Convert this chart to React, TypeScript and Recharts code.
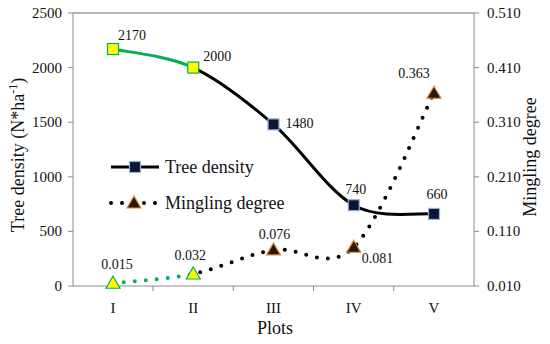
import React from 'react';
import {
  ComposedChart,
  Line,
  XAxis,
  YAxis,
  Legend,
  LabelList,
  ReferenceLine,
} from 'recharts';

// Plots I..V
const PLOTS = ['I', 'II', 'III', 'IV', 'V'];
const TREE_DENSITY = [2170, 2000, 1480, 740, 660];
const MINGLING = [0.015, 0.032, 0.076, 0.081, 0.363];
const DENSITY_TICKS = [0, 500, 1000, 1500, 2000, 2500];
const MINGLING_TICKS = [0.01, 0.11, 0.21, 0.31, 0.41, 0.51];

const data = PLOTS.map((p, i) => ({ plot: p, density: TREE_DENSITY[i], mingling: MINGLING[i] }));

const FONT = '"Liberation Serif", "Times New Roman", serif';
const GREEN = '#00b050';
const AXIS = '#8c8c8c';
const serif = { fontFamily: FONT };

// label placement per point [dx, dy, anchor]
const DENSITY_LABEL_POS: [number, number, string][] = [
  [5, -9, 'start'],
  [10, -7, 'start'],
  [12, 4, 'start'],
  [2, -11, 'middle'],
  [3, -15, 'middle'],
];
const MINGLING_LABEL_POS: [number, number, string][] = [
  [4, -14, 'middle'],
  [-3, -14, 'middle'],
  [1, -11, 'middle'],
  [8, 16, 'start'],
  [-20, -15, 'middle'],
];

// Excel-like smoothed line (catmull-rom style bezier)
function excelSmooth(context: any) {
  let pts: number[][] = [];
  return {
    areaStart() {},
    areaEnd() {},
    lineStart() {
      pts = [];
    },
    point(x: number, y: number) {
      pts.push([+x, +y]);
    },
    lineEnd() {
      const n = pts.length;
      if (!n) return;
      context.moveTo(pts[0][0], pts[0][1]);
      for (let i = 0; i < n - 1; i++) {
        const p0 = pts[Math.max(i - 1, 0)];
        const p1 = pts[i];
        const p2 = pts[i + 1];
        const p3 = pts[Math.min(i + 2, n - 1)];
        context.bezierCurveTo(
          p1[0] + (p2[0] - p0[0]) / 6,
          p1[1] + (p2[1] - p0[1]) / 6,
          p2[0] - (p3[0] - p1[0]) / 6,
          p2[1] - (p3[1] - p1[1]) / 6,
          p2[0],
          p2[1]
        );
      }
    },
  };
}

function SquareDot(props: any) {
  const { cx, cy, index } = props;
  const early = index < 2;
  return (
    <rect
      key={`sq-${index}`}
      x={cx - 5.5}
      y={cy - 5.5}
      width={11}
      height={11}
      fill={early ? '#ffff00' : '#0f1430'}
      stroke={early ? GREEN : '#8db8e2'}
      strokeWidth={1.2}
    />
  );
}

function TriangleDot(props: any) {
  const { cx, cy, index } = props;
  const early = index < 2;
  return (
    <path
      key={`tr-${index}`}
      d={`M${cx},${cy - 7} L${cx + 7},${cy + 5} L${cx - 7},${cy + 5} Z`}
      fill={early ? '#ffff00' : '#2a1708'}
      stroke={early ? GREEN : '#e08a3c'}
      strokeWidth={1.2}
    />
  );
}

function makeLabel(pos: [number, number, string][], fmt: (v: number) => string) {
  return (props: any) => {
    const { x, y, index, value } = props;
    const [dx, dy, anchor] = pos[index];
    return (
      <text x={x + dx} y={y + dy} textAnchor={anchor as any} fontSize={14} style={serif} fill="#111">
        {fmt(value)}
      </text>
    );
  };
}

function PlotTick(props: any) {
  const { x, y, payload, index } = props;
  return (
    <g>
      {index < 4 && <line x1={x + 40} x2={x + 40} y1={y - 8} y2={y - 3} stroke={AXIS} />}
      <text x={x} y={y + 19} textAnchor="middle" fontSize={15} style={serif} fill="#111">
        {payload.value}
      </text>
    </g>
  );
}

function ValueTick(props: any) {
  const { x, y, payload, anchor, fmt } = props;
  return (
    <text x={x} y={y + 5} textAnchor={anchor} fontSize={15} style={serif} fill="#111">
      {fmt(payload.value)}
    </text>
  );
}

function ChartLegend() {
  return (
    <svg width={200} height={60} style={{ display: 'block' }}>
      <line x1={8} x2={56} y1={12} y2={12} stroke="#000" strokeWidth={3} />
      <rect x={26.5} y={6.5} width={11} height={11} fill="#0f1430" stroke="#8db8e2" strokeWidth={1.2} />
      <text x={62} y={18} fontSize={18} style={serif} fill="#111">Tree density</text>
      <line x1={8} x2={56} y1={48} y2={48} stroke="#000" strokeWidth={4} strokeDasharray="0 11" strokeLinecap="round" />
      <path d="M31,41 L38,53 L24,53 Z" fill="#2a1708" stroke="#e08a3c" strokeWidth={1.2} />
      <text x={62} y={54} fontSize={18} style={serif} fill="#111">Mingling degree</text>
    </svg>
  );
}

export default function App() {
  return (
    <div style={{ position: 'absolute', left: 0, top: 0, width: 550, height: 344, background: '#fff', fontFamily: FONT }}>
      <ComposedChart width={550} height={344} data={data} margin={{ top: 13, right: 0, bottom: 0, left: 0 }}>
        <defs>
          <linearGradient id="earlyGreen" x1="0" y1="0" x2="1" y2="0">
            <stop offset="0" stopColor={GREEN} />
            <stop offset="0.25" stopColor={GREEN} />
            <stop offset="0.25" stopColor="#000" />
            <stop offset="1" stopColor="#000" />
          </linearGradient>
        </defs>
        <XAxis
          dataKey="plot"
          height={58}
          padding={{ left: 40, right: 40 }}
          stroke={AXIS}
          tickLine={false}
          tick={<PlotTick />}
          label={{
            content: () => (
              <text x={275} y={334} textAnchor="middle" fontSize={18} style={serif} fill="#111">
                Plots
              </text>
            ),
          }}
        />
        <YAxis
          yAxisId="left"
          width={73}
          domain={[0, 2500]}
          ticks={DENSITY_TICKS}
          interval={0}
          stroke={AXIS}
          tickSize={5}
          tickMargin={6}
          tick={<ValueTick anchor="end" fmt={(v: number) => String(v)} />}
          label={{
            content: () => (
              <text transform="translate(24,155) rotate(-90)" textAnchor="middle" fontSize={18} style={serif} fill="#111">
                Tree density (N*ha<tspan fontSize={12} dy={-7}>-1</tspan>
                <tspan dy={7}>)</tspan>
              </text>
            ),
          }}
        />
        <YAxis
          yAxisId="right"
          orientation="right"
          width={76}
          domain={[0.01, 0.51]}
          ticks={MINGLING_TICKS}
          interval={0}
          stroke={AXIS}
          tickSize={5}
          tickMargin={8}
          tick={<ValueTick anchor="start" fmt={(v: number) => v.toFixed(3)} />}
          label={{
            content: () => (
              <text transform="translate(536,157) rotate(-90)" textAnchor="middle" fontSize={18} style={serif} fill="#111">
                Mingling degree
              </text>
            ),
          }}
        />
        <ReferenceLine yAxisId="left" y={2500} stroke="#666" />
        <Legend
          layout="horizontal"
          verticalAlign="middle"
          align="center"
          wrapperStyle={{ position: 'absolute', left: 103, top: 155, width: 200 }}
          content={() => <ChartLegend />}
        />
        <Line
          yAxisId="left"
          dataKey="density"
          type={excelSmooth as any}
          stroke="url(#earlyGreen)"
          strokeWidth={3}
          dot={<SquareDot />}
          activeDot={false}
          isAnimationActive={false}
        >
          <LabelList dataKey="density" content={makeLabel(DENSITY_LABEL_POS, (v) => String(v))} />
        </Line>
        <Line
          yAxisId="right"
          dataKey="mingling"
          type={excelSmooth as any}
          stroke="url(#earlyGreen)"
          strokeWidth={4}
          strokeDasharray="0 11"
          strokeLinecap="round"
          dot={<TriangleDot />}
          activeDot={false}
          isAnimationActive={false}
        >
          <LabelList dataKey="mingling" content={makeLabel(MINGLING_LABEL_POS, (v) => v.toFixed(3))} />
        </Line>
      </ComposedChart>
    </div>
  );
}
